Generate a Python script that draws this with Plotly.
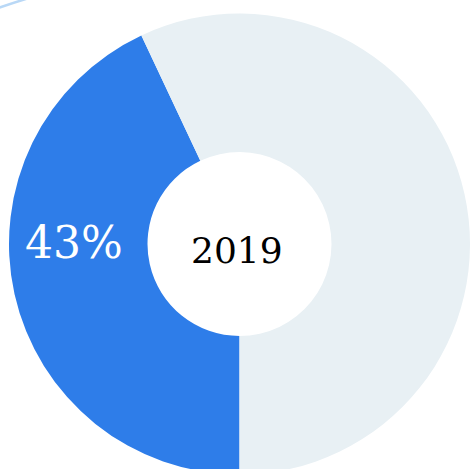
import plotly.graph_objects as go

# Data
labels = ["2019", "Remaining"]
values = [43, 57]
colors = ["#2e7de9", "#e8f0f4"]
center_label = "2019"

W, H = 470, 480

def px(x):
    return x / W

def py(y):
    return 1 - y / H

share = round(100 * values[0] / sum(values))

cx, cy, R = 239.5, 244, 230.5

fig = go.Figure()
fig.add_trace(go.Pie(
    labels=labels,
    values=values,
    hole=92 / R,
    sort=False,
    direction="clockwise",
    rotation=180,
    marker=dict(colors=colors, line=dict(width=0)),
    textinfo="none",
    hoverinfo="label+percent",
    showlegend=False,
    domain=dict(x=[px(cx - R), px(cx + R)], y=[py(cy + R), py(cy - R)]),
))

# decorative arc at top-left
acx, acy, ar = 260, 764, 800
fig.add_shape(type="circle", xref="paper", yref="paper",
              x0=px(acx - ar), x1=px(acx + ar),
              y0=py(acy + ar), y1=py(acy - ar),
              line=dict(color="#b9d8f6", width=2.5), fillcolor="rgba(0,0,0,0)",
              layer="below")

fig.add_annotation(x=px(237), y=py(250), xref="paper", yref="paper",
                   text=center_label, showarrow=False,
                   xanchor="center", yanchor="middle",
                   font=dict(family="DejaVu Serif", size=36, color="#000000"))
fig.add_annotation(x=px(74), y=py(242), xref="paper", yref="paper",
                   text=f"{share}%", showarrow=False,
                   xanchor="center", yanchor="middle",
                   font=dict(family="DejaVu Serif", size=44, color="#ffffff"))

fig.update_layout(
    width=W, height=H,
    margin=dict(l=0, r=0, t=0, b=0),
    paper_bgcolor="#ffffff",
    plot_bgcolor="#ffffff",
)

fig.write_html(
    "out.html",
    config={"displayModeBar": False},
    post_script="document.body.style.margin='0';document.body.style.overflow='hidden';"
                "document.documentElement.style.overflow='hidden';",
)
